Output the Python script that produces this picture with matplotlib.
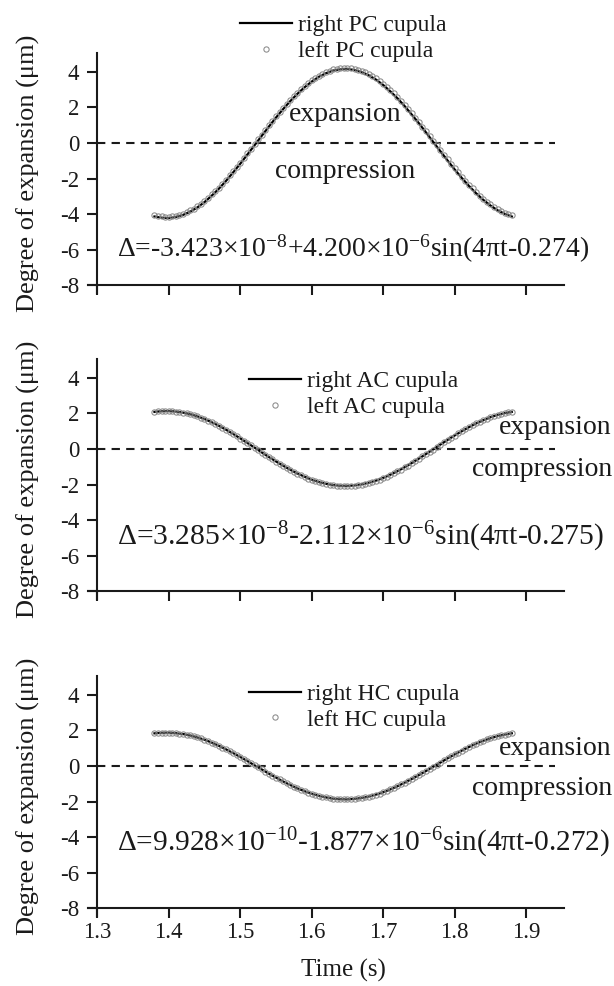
import numpy as np
import matplotlib
matplotlib.use("Agg")
import matplotlib.pyplot as plt
from matplotlib.lines import Line2D

plt.rcParams['font.family'] = ['Liberation Serif', 'DejaVu Serif']
plt.rcParams['mathtext.fontset'] = 'custom'
plt.rcParams['mathtext.rm'] = 'Liberation Serif'
plt.rcParams['mathtext.it'] = 'Liberation Serif:italic'
plt.rcParams['mathtext.default'] = 'rm'

# ---------------- data ----------------
t_right = np.linspace(1.38, 1.88, 51)    # sampling times of solid curves
t_left = np.linspace(1.38, 1.88, 101)    # sampling times of marker series

pc_right = [-4.14, -4.21, -4.23, -4.17, -4.05, -3.87, -3.63, -3.33, -2.97, -2.58,
            -2.14, -1.66, -1.17, -0.65, -0.13, 0.40, 0.92, 1.43, 1.91, 2.36,
            2.77, 3.14, 3.46, 3.73, 3.93, 4.08, 4.15, 4.17, 4.11, 3.99,
            3.81, 3.57, 3.27, 2.91, 2.52, 2.08, 1.60, 1.11, 0.59, 0.06,
            -0.46, -0.98, -1.49, -1.97, -2.42, -2.83, -3.20, -3.52, -3.79, -3.99,
            -4.14]
pc_left = [-4.07, -4.11, -4.14, -4.16, -4.16, -4.14, -4.10, -4.05, -3.98, -3.90,
           -3.80, -3.69, -3.56, -3.41, -3.26, -3.09, -2.90, -2.71, -2.51, -2.29,
           -2.07, -1.83, -1.59, -1.35, -1.10, -0.84, -0.58, -0.32, -0.06, 0.21,
           0.47, 0.73, 0.99, 1.25, 1.50, 1.74, 1.98, 2.21, 2.43, 2.64,
           2.84, 3.04, 3.21, 3.38, 3.53, 3.67, 3.80, 3.91, 4.00, 4.08,
           4.15, 4.19, 4.22, 4.24, 4.24, 4.22, 4.18, 4.13, 4.06, 3.98,
           3.88, 3.77, 3.64, 3.49, 3.34, 3.17, 2.98, 2.79, 2.59, 2.37,
           2.15, 1.91, 1.67, 1.43, 1.18, 0.92, 0.66, 0.40, 0.14, -0.13,
           -0.39, -0.65, -0.91, -1.17, -1.42, -1.66, -1.90, -2.13, -2.35, -2.56,
           -2.76, -2.96, -3.13, -3.30, -3.45, -3.59, -3.72, -3.83, -3.92, -4.00,
           -4.07]

ac_right = [2.09, 2.13, 2.14, 2.11, 2.05, 1.96, 1.84, 1.69, 1.51, 1.31,
            1.09, 0.85, 0.60, 0.34, 0.08, -0.19, -0.45, -0.70, -0.94, -1.17,
            -1.38, -1.56, -1.73, -1.86, -1.96, -2.03, -2.07, -2.08, -2.05, -1.99,
            -1.90, -1.78, -1.63, -1.45, -1.25, -1.03, -0.79, -0.54, -0.28, -0.02,
            0.25, 0.51, 0.76, 1.00, 1.23, 1.44, 1.62, 1.79, 1.92, 2.02,
            2.09]
ac_left = [2.09, 2.12, 2.13, 2.14, 2.14, 2.13, 2.11, 2.08, 2.05, 2.01,
           1.96, 1.90, 1.84, 1.76, 1.68, 1.60, 1.51, 1.41, 1.30, 1.20,
           1.08, 0.97, 0.84, 0.72, 0.59, 0.46, 0.33, 0.20, 0.07, -0.07,
           -0.20, -0.33, -0.46, -0.59, -0.72, -0.84, -0.96, -1.08, -1.19, -1.29,
           -1.40, -1.49, -1.58, -1.67, -1.74, -1.81, -1.88, -1.93, -1.98, -2.02,
           -2.05, -2.08, -2.09, -2.10, -2.10, -2.09, -2.07, -2.04, -2.01, -1.97,
           -1.92, -1.86, -1.80, -1.72, -1.64, -1.56, -1.47, -1.37, -1.26, -1.16,
           -1.04, -0.93, -0.80, -0.68, -0.55, -0.42, -0.29, -0.16, -0.03, 0.11,
           0.24, 0.37, 0.50, 0.63, 0.76, 0.88, 1.00, 1.12, 1.23, 1.33,
           1.44, 1.53, 1.62, 1.71, 1.78, 1.85, 1.92, 1.97, 2.02, 2.06,
           2.09]

hc_right = [1.84, 1.87, 1.88, 1.85, 1.80, 1.72, 1.61, 1.48, 1.32, 1.14,
            0.94, 0.73, 0.51, 0.28, 0.04, -0.19, -0.43, -0.65, -0.87, -1.07,
            -1.26, -1.42, -1.56, -1.68, -1.77, -1.84, -1.87, -1.88, -1.85, -1.80,
            -1.72, -1.61, -1.48, -1.32, -1.14, -0.94, -0.73, -0.51, -0.28, -0.04,
            0.19, 0.43, 0.65, 0.87, 1.07, 1.26, 1.42, 1.56, 1.68, 1.77,
            1.84]
hc_left = [1.84, 1.86, 1.87, 1.88, 1.88, 1.87, 1.85, 1.83, 1.80, 1.76,
           1.72, 1.67, 1.61, 1.55, 1.48, 1.40, 1.32, 1.23, 1.14, 1.04,
           0.94, 0.84, 0.73, 0.62, 0.51, 0.39, 0.28, 0.16, 0.04, -0.08,
           -0.19, -0.31, -0.43, -0.54, -0.65, -0.76, -0.87, -0.97, -1.07, -1.17,
           -1.26, -1.34, -1.42, -1.50, -1.56, -1.63, -1.68, -1.73, -1.77, -1.81,
           -1.84, -1.86, -1.87, -1.88, -1.88, -1.87, -1.85, -1.83, -1.80, -1.76,
           -1.72, -1.67, -1.61, -1.55, -1.48, -1.40, -1.32, -1.23, -1.14, -1.04,
           -0.94, -0.84, -0.73, -0.62, -0.51, -0.39, -0.28, -0.16, -0.04, 0.08,
           0.19, 0.31, 0.43, 0.54, 0.65, 0.76, 0.87, 0.97, 1.07, 1.17,
           1.26, 1.34, 1.42, 1.50, 1.56, 1.63, 1.68, 1.73, 1.77, 1.81,
           1.84]

canal_names = ['PC', 'AC', 'HC']
equations = [
    r'Δ=-3.423×10$^{\mathrm{-8}}$+4.200×10$^{\mathrm{-6}}$sin(4πt-0.274)',
    r'Δ=3.285×10$^{\mathrm{-8}}$-2.112×10$^{\mathrm{-6}}$sin(4πt-0.275)',
    r'Δ=9.928×10$^{\mathrm{-10}}$-1.877×10$^{\mathrm{-6}}$sin(4πt-0.272)',
]
x_ticks = [1.3, 1.4, 1.5, 1.6, 1.7, 1.8, 1.9]
y_ticks = [-8, -6, -4, -2, 0, 2, 4]
x_label = 'Time (s)'
y_label = 'Degree of expansion (μm)'

# ---------------- layout / style ----------------
W, H = 614, 986
fig = plt.figure(figsize=(W / 100, H / 100), dpi=100)
fig.patch.set_facecolor('white')

axes_rects = [
    [88 / W, 1 - 293 / H, 476 / W, 240 / H],
    [88 / W, 1 - 599 / H, 476 / W, 240 / H],
    [88 / W, 1 - 916 / H, 476 / W, 240 / H],
]
legend_anchor = [(0.319, 1.060), (0.338, 0.853), (0.338, 0.871)]
# (x, y, ha) for 'expansion' / 'compression' labels
exp_pos = [(1.647, 1.58, 'center'), (2.02, 1.19, 'right'), (2.02, 1.01, 'right')]
comp_pos = [(1.647, -1.63, 'center'), (2.02, -1.17, 'right'), (2.02, -1.24, 'right')]
eq_pos = [(1.328, -5.97), (1.328, -4.93), (1.328, -4.34)]
eq_size = [20, 21.3, 21.2]

rights = [pc_right, ac_right, hc_right]
lefts = [pc_left, ac_left, hc_left]

TXT = '#1a1a1a'
MK = dict(marker='o', markersize=3.8, markerfacecolor='none',
          markeredgecolor='#8a8a8a', markeredgewidth=0.75)
for i in range(3):
    ax = fig.add_axes(axes_rects[i])
    ax.set_facecolor('none')
    ax.set_xlim(1.287, 1.953)
    ax.set_ylim(-8.45, 5.07)
    for s in ['top', 'right']:
        ax.spines[s].set_visible(False)
    ax.spines['left'].set_position(('data', 1.3))
    ax.spines['bottom'].set_position(('data', -8))
    for s in ['left', 'bottom']:
        ax.spines[s].set_linewidth(1.5)
        ax.spines[s].set_color(TXT)
    ax.set_xticks(x_ticks)
    ax.set_yticks(y_ticks)
    ax.set_yticklabels([str(v) for v in y_ticks])
    ax.tick_params(axis='both', direction='out', length=7, width=1.5,
                   color=TXT, labelsize=16.5, labelcolor=TXT)
    ax.tick_params(axis='y', pad=6)
    ax.tick_params(axis='x', pad=3)
    if i < 2:
        ax.set_xticklabels([])
    else:
        ax.set_xticklabels([f'{v:.1f}' for v in x_ticks])
        ax.set_xlabel(x_label, fontsize=18, color=TXT)
        ax.xaxis.set_label_coords(0.536, -0.18)
    ax.set_ylabel(y_label, fontsize=19, color=TXT)
    ax.yaxis.set_label_coords(-0.1, 0.5)

    ax.hlines(0, 1.3, 1.94, colors=TXT, linewidth=1.5, linestyles=(0, (4, 3)))
    ax.plot(t_right, rights[i], color='black', linewidth=1.6, zorder=3)
    ax.plot(t_left, lefts[i], linestyle='none', zorder=4, **MK)

    handles = [
        Line2D([], [], color='black', linewidth=1.6),
        Line2D([], [], linestyle='none', **MK),
    ]
    labels = [f'right {canal_names[i]} cupula', f'left {canal_names[i]} cupula']
    leg = ax.legend(handles, labels, loc='center left',
                    bbox_to_anchor=legend_anchor[i], frameon=False,
                    fontsize=17, handlelength=2.2, handletextpad=0.25,
                    labelspacing=0.18, borderpad=0, borderaxespad=0)
    for tx in leg.get_texts():
        tx.set_color(TXT)

    ex, ey, eha = exp_pos[i]
    ax.text(ex, ey, 'expansion', fontsize=20, ha=eha, va='center',
            color=TXT, clip_on=False)
    cx, cy, cha = comp_pos[i]
    ax.text(cx, cy, 'compression', fontsize=20, ha=cha, va='center',
            color=TXT, clip_on=False)
    qx, qy = eq_pos[i]
    ax.text(qx, qy, equations[i], fontsize=eq_size[i], ha='left', va='center',
            color=TXT, clip_on=False)

fig.savefig('out.png', dpi=100, facecolor='white')
